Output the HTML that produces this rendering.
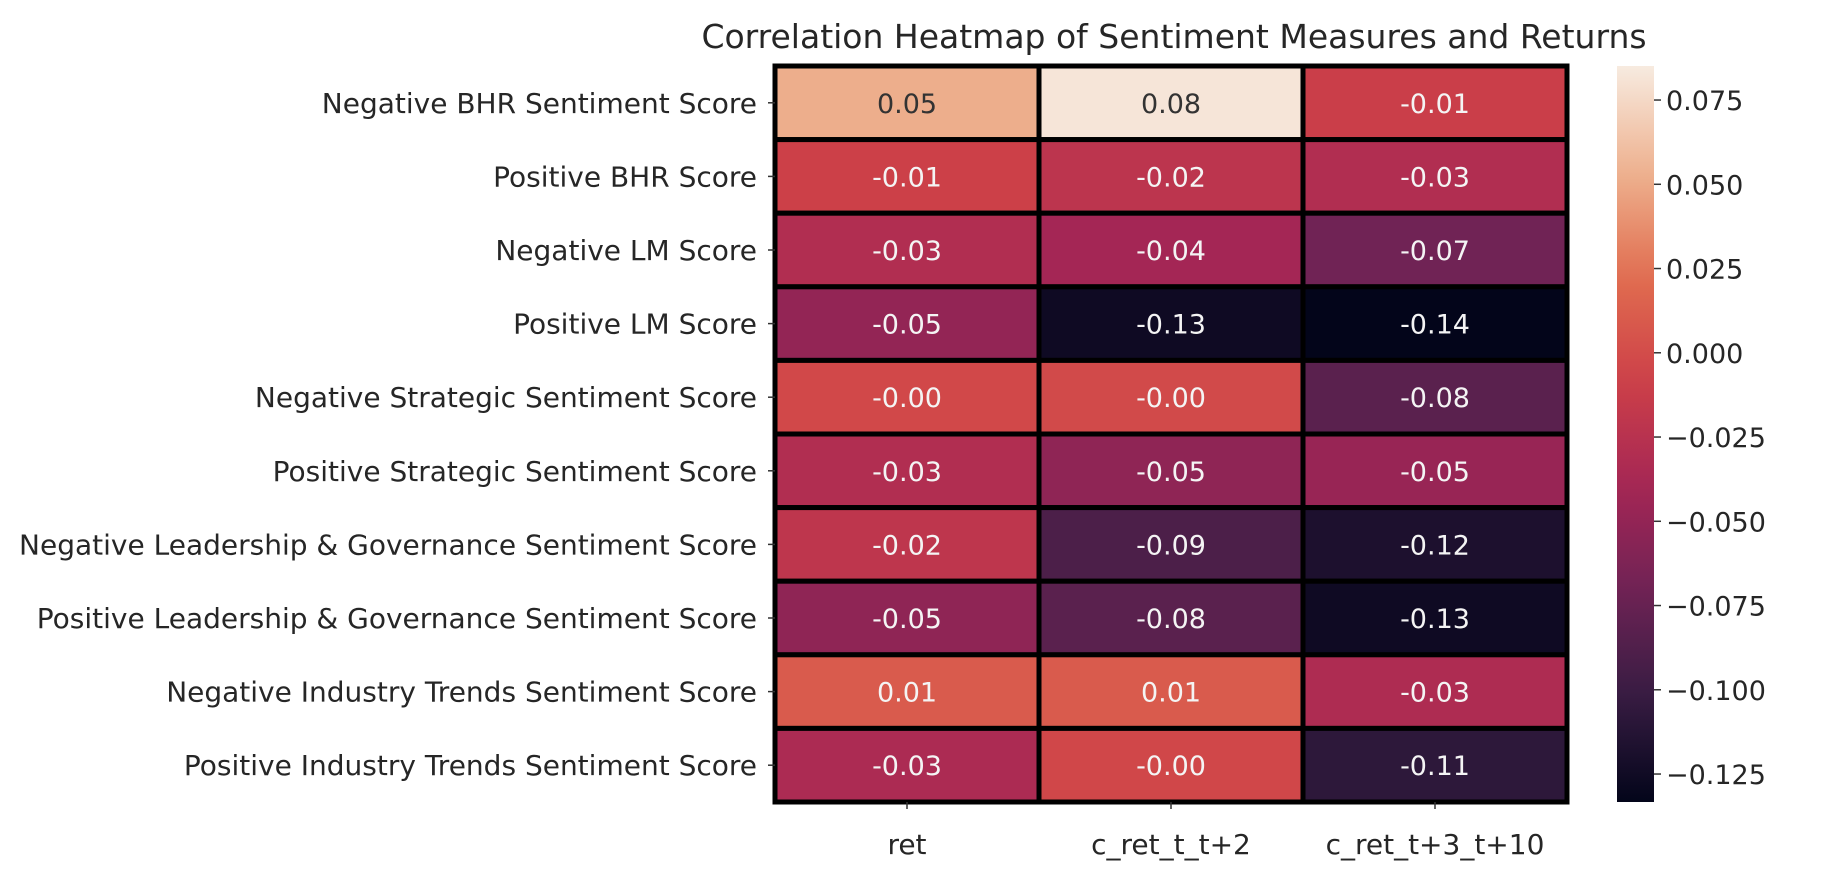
<!DOCTYPE html>
<html><head><meta charset="utf-8"><style>
html,body{margin:0;padding:0;background:#fff;}
svg text{font-family:"DejaVu Sans","Liberation Sans",sans-serif;}
</style></head><body>
<svg id="chart" width="1838" height="874" viewBox="0 0 1838 874" xmlns="http://www.w3.org/2000/svg">
<rect width="1838" height="874" fill="#fff"/>
<text x="1174" y="48" font-size="33" text-anchor="middle" fill="#262626">Correlation Heatmap of Sentiment Measures and Returns</text>
<g id="cells"></g><g id="axes"></g><g id="cbar"></g>
</svg>
<script>
const rowLabels = ["Negative BHR Sentiment Score","Positive BHR Score","Negative LM Score","Positive LM Score","Negative Strategic Sentiment Score","Positive Strategic Sentiment Score","Negative Leadership & Governance Sentiment Score","Positive Leadership & Governance Sentiment Score","Negative Industry Trends Sentiment Score","Positive Industry Trends Sentiment Score"];
const colLabels = ["ret","c_ret_t_t+2","c_ret_t+3_t+10"];
const colRet = [0.052,-0.009,-0.030,-0.050,-0.003,-0.030,-0.020,-0.052,0.010,-0.034];
const colRet2 = [0.082,-0.022,-0.040,-0.126,-0.002,-0.052,-0.090,-0.082,0.010,-0.004];
const colRet10 = [-0.011,-0.030,-0.070,-0.135,-0.082,-0.047,-0.118,-0.126,-0.033,-0.108];
const cbarTicks = [0.075,0.050,0.025,0.000,-0.025,-0.050,-0.075,-0.100,-0.125];
const vmin = -0.1333, vmax = 0.0851;

const NS="http://www.w3.org/2000/svg";
const L=775,R=1567,T=66,B=802;
const cols=[colRet,colRet2,colRet10];
const cw=(R-L)/colLabels.length, rh=(B-T)/rowLabels.length;
const xPos=j=>L+j*cw, yPos=i=>T+i*rh;
const stops=[[0,[3,5,26]],[1/7,[55,28,66]],[2/7,[110,35,85]],[3/7,[165,38,85]],[4/7,[205,64,72]],[5/7,[225,110,80]],[6/7,[238,178,144]],[1,[247,235,224]]];
function cmap(v){let t=Math.max(0,Math.min(1,(v-vmin)/(vmax-vmin)));
 for(let k=1;k<stops.length;k++){if(t<=stops[k][0]){const a=stops[k-1],b=stops[k];const f=(t-a[0])/(b[0]-a[0]);
 return a[1].map((c,i)=>Math.round(c+(b[1][i]-c)*f));}}return stops[stops.length-1][1];}
function mk(tag,attrs,parent){const e=document.createElementNS(NS,tag);for(const k in attrs)e.setAttribute(k,attrs[k]);parent.appendChild(e);return e;}
const gc=document.getElementById('cells'),ga=document.getElementById('axes'),gb=document.getElementById('cbar');
for(let j=0;j<cols.length;j++){for(let i=0;i<rowLabels.length;i++){
 const v=cols[j][i];const c=cmap(v);
 const r=mk('rect',{x:xPos(j),y:yPos(i),width:cw,height:rh,fill:`rgb(${c})`,stroke:'#000','stroke-width':5},gc);
 
 
 const lum=(0.2126*c[0]+0.7152*c[1]+0.0722*c[2])/255;
 const t=mk('text',{x:xPos(j)+cw/2,y:yPos(i)+rh/2+10,'font-size':27,'text-anchor':'middle',fill:lum>0.55?'#333333':'#f4f4f4'},gc);
 t.textContent=v.toFixed(2);
 
 
}}
mk('rect',{x:L,y:T,width:R-L,height:B-T,fill:'none',stroke:'#000','stroke-width':2},gc);
rowLabels.forEach((lab,i)=>{const y=yPos(i)+rh/2;
 mk('line',{x1:L-7,x2:L,y1:y,y2:y,stroke:'#333','stroke-width':1.5},ga);
 const t=mk('text',{x:L-18,y:y+10,'font-size':28,'text-anchor':'end',fill:'#262626'},ga);t.textContent=lab;
 
 });
colLabels.forEach((lab,j)=>{const x=xPos(j)+cw/2;
 mk('line',{x1:x,x2:x,y1:B,y2:B+7,stroke:'#333','stroke-width':1.5},ga);
 const t=mk('text',{x:x,y:B+52,'font-size':28,'text-anchor':'middle',fill:'#262626'},ga);t.textContent=lab;
 
 });
const CL=1617,CR=1654;
const cy=v=>B-(v-vmin)/(vmax-vmin)*(B-T);
const defs=mk('defs',{},gb);const lg=mk('linearGradient',{id:'cg',x1:0,y1:1,x2:0,y2:0},defs);
for(let k=0;k<=20;k++){const v=vmin+(vmax-vmin)*k/20;mk('stop',{offset:k/20,'stop-color':`rgb(${cmap(v)})`},lg);}
const cb=mk('rect',{x:CL,y:T,width:CR-CL,height:B-T,fill:'url(#cg)'},gb);


cbarTicks.forEach(v=>{const y=cy(v);
 mk('line',{x1:CR,x2:CR+7,y1:y,y2:y,stroke:'#333','stroke-width':1.5},gb);
 const t=mk('text',{x:CR+12,y:y+10,'font-size':27,fill:'#262626'},gb);
 t.textContent=(v<0?'\u2212':'')+Math.abs(v).toFixed(3);
 
 });
</script>
</body></html>
